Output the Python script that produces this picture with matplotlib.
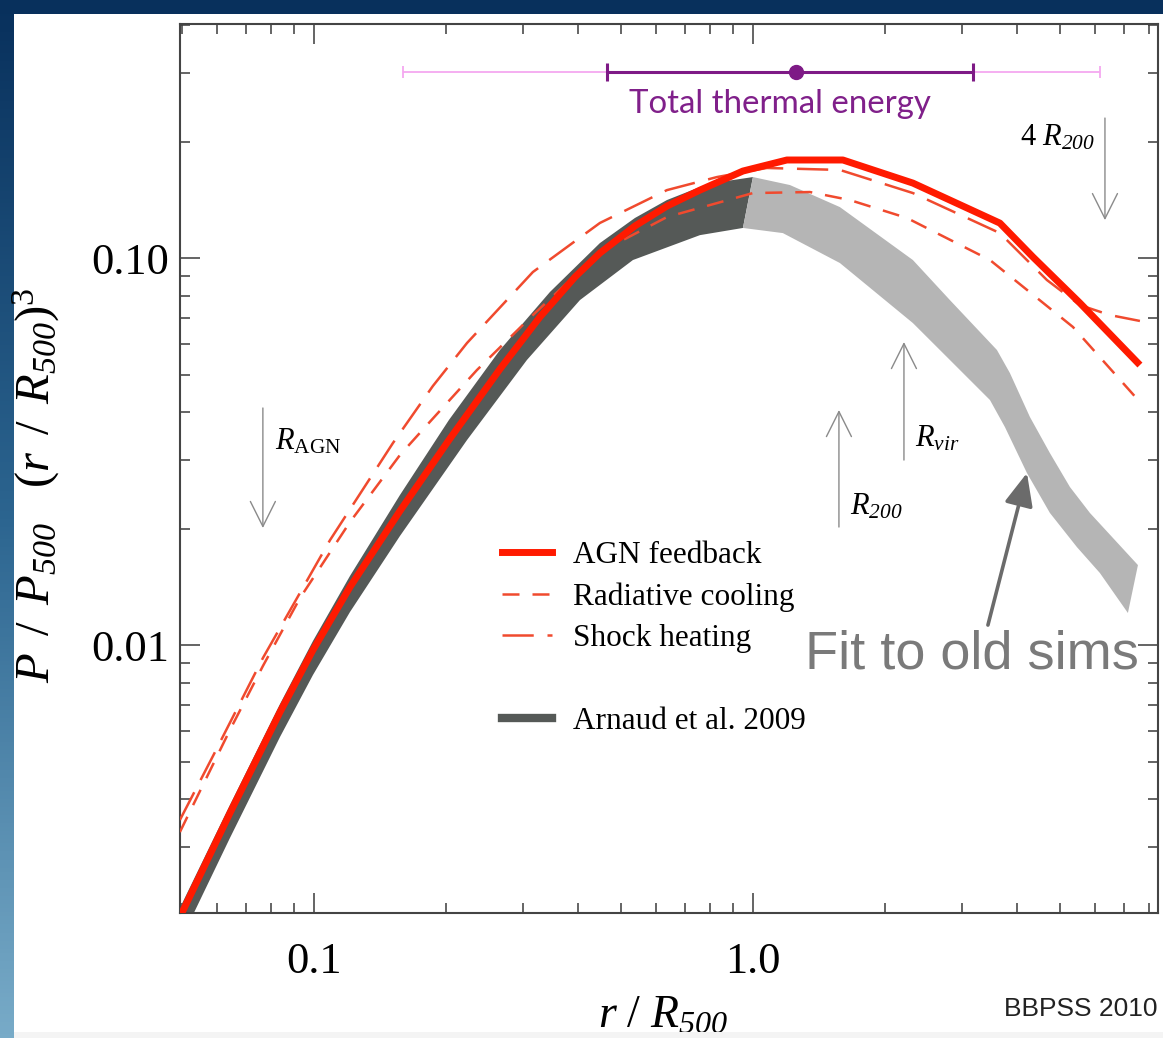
import numpy as np
import matplotlib
matplotlib.use('Agg')
import matplotlib.pyplot as plt
from matplotlib.lines import Line2D
from matplotlib.patches import Rectangle
from matplotlib.colors import LinearSegmentedColormap
from matplotlib.ticker import FixedLocator, FixedFormatter, NullFormatter, LogLocator

plt.rcParams['font.family'] = ['Liberation Serif', 'DejaVu Serif']
plt.rcParams['mathtext.fontset'] = 'custom'
plt.rcParams['mathtext.rm'] = 'Liberation Serif'
plt.rcParams['mathtext.it'] = 'Liberation Serif:italic'
plt.rcParams['mathtext.bf'] = 'Liberation Serif:bold'
plt.rcParams['mathtext.sf'] = 'Liberation Serif:italic'   # used for italic digits

# ---------------- data ----------------
agn_x = [0.0495, 0.06436, 0.08369, 0.09947, 0.1208, 0.1570, 0.2030, 0.2653, 0.3271,
         0.3931, 0.4481, 0.5385, 0.6369, 0.7574, 0.9489, 1.195, 1.603, 2.314,
         3.652, 4.344, 5.558, 7.613]
agn_y = [0.001982, 0.003680, 0.006712, 0.009707, 0.01412, 0.02220, 0.03386, 0.05166,
         0.07039, 0.08931, 0.1030, 0.1210, 0.1362, 0.1498, 0.1678, 0.1792, 0.1792,
         0.1562, 0.1231, 0.1006, 0.0765, 0.0529]

rad_x = [0.0495, 0.06436, 0.07651, 0.09292, 0.1208, 0.1570, 0.1809, 0.2351, 0.3153,
         0.4481, 0.6369, 1.0, 1.348, 1.663, 2.243, 3.467, 5.357, 7.613]
rad_y = [0.003286, 0.006033, 0.008826, 0.01322, 0.02079, 0.03097, 0.03702, 0.05135,
         0.07122, 0.1036, 0.1276, 0.1472, 0.1481, 0.1412, 0.1269, 0.09882, 0.06635,
         0.04245]

shock_x = [0.0495, 0.05888, 0.07651, 0.1088, 0.1513, 0.1866, 0.2232, 0.3153, 0.4481,
           0.6369, 0.8279, 1.076, 1.578, 2.314, 3.652, 4.674, 5.558, 6.506, 7.613]
shock_y = [0.003530, 0.005165, 0.009256, 0.01867, 0.03325, 0.04670, 0.06032, 0.09201,
           0.1232, 0.1498, 0.1619, 0.1709, 0.1689, 0.1472, 0.1160, 0.08773, 0.07557,
           0.07122, 0.06877]

# Arnaud et al. 2009 band over its fitted range (dark): upper edge, then lower edge
arn_up_x = [0.0495, 0.06436, 0.08369, 0.09947, 0.1208, 0.1570, 0.2030, 0.2653, 0.3448,
            0.4481, 0.5385, 0.6369, 0.7574, 0.8411, 1.0]
arn_up_y = [0.002091, 0.003860, 0.007039, 0.01024, 0.01508, 0.02441, 0.03815, 0.05786,
            0.08169, 0.1093, 0.1269, 0.1412, 0.1526, 0.1572, 0.1619]
arn_lo_x = [0.9489, 0.7574, 0.5329, 0.4036, 0.3056, 0.2232, 0.1570, 0.1208, 0.09947,
            0.08369, 0.06436, 0.0495]
arn_lo_y = [0.1196, 0.1146, 0.09882, 0.07787, 0.05452, 0.03386, 0.01913, 0.01217,
            0.008365, 0.005786, 0.003172, 0.001708]

# Fit to old sims (light extrapolated band)
old_up_x = [1.0, 1.214, 1.578, 2.314, 2.810, 3.596, 3.849, 4.276, 4.748, 5.274,
            5.857, 7.534]
old_up_y = [0.1619, 0.1544, 0.1354, 0.09882, 0.07787, 0.05786, 0.05045, 0.03882,
            0.03133, 0.02560, 0.02194, 0.01609]
old_lo_x = [7.148, 6.171, 5.470, 4.748, 4.209, 3.750, 3.467, 2.810, 2.314,
            1.578, 1.170, 0.9489]
old_lo_y = [0.01210, 0.01535, 0.01791, 0.02194, 0.02783, 0.03658, 0.04296,
            0.05452, 0.06792, 0.09707, 0.1160, 0.1196]

# Total thermal energy marker
te_x, te_y = 1.253, 0.3024
te_inner = (0.4650, 3.171)
te_outer = (0.1595, 6.171)

# radius markers: (x, tail y, tip y)
r_agn = (0.0765, 0.04097, 0.02006)
r_200 = (1.570, 0.02018, 0.04048)
r_vir = (2.208, 0.03006, 0.06067)
r4_200 = (6.337, 0.2300, 0.1253)

xticks = [0.1, 1.0]
xticklabels = ['0.1', '1.0']
yticks = [0.01, 0.1]
yticklabels = ['0.01', '0.10']

# ---------------- figure ----------------
W, H = 1163, 1038
fig = plt.figure(figsize=(W / 100, H / 100), dpi=100)
fig.patch.set_facecolor('white')

bg = fig.add_axes([0, 0, 1, 1], zorder=-5)
cmap = LinearSegmentedColormap.from_list('slide', ['#08305c', '#2c6590', '#78abc8'])
bg.imshow(np.linspace(0, 1, 256).reshape(-1, 1), cmap=cmap,
          extent=[0, 14, H, 0], aspect='auto')
bg.add_patch(Rectangle((0, 0), W, 14, color='#08305c', lw=0))
bg.set_xlim(0, W)
bg.set_ylim(H, 0)
bg.axis('off')

ax = fig.add_axes([180 / W, (H - 913) / H, (1158 - 180) / W, (913 - 24) / H])
ax.set_xscale('log')
ax.set_yscale('log')
ax.set_xlim(0.04953, 8.37)
ax.set_ylim(0.00203, 0.4025)

red = '#ff1a00'
dred = '#f04a2e'

ax.fill(arn_up_x + arn_lo_x, arn_up_y + arn_lo_y, color='#555957', lw=0, zorder=2)
ax.fill(old_up_x + old_lo_x, old_up_y + old_lo_y, color='#b5b5b5', lw=0, zorder=2)

ax.plot(shock_x, shock_y, color=dred, lw=1.8, dashes=(12.5, 5.5), zorder=3)
ax.plot(rad_x, rad_y, color=dred, lw=1.8, dashes=(6.8, 5.2), zorder=3)
ax.plot(agn_x, agn_y, color=red, lw=5, zorder=4, solid_capstyle='butt',
        solid_joinstyle='round')

# total thermal energy bar
ax.errorbar([te_x], [te_y], xerr=[[te_x - te_outer[0]], [te_outer[1] - te_x]],
            fmt='none', ecolor='#f4a8f0', elinewidth=1.3, capsize=4.5, capthick=1.3,
            zorder=5)
ax.errorbar([te_x], [te_y], xerr=[[te_x - te_inner[0]], [te_inner[1] - te_x]],
            fmt='o', color='#7e1a86', ms=10, elinewidth=2.2, capsize=6.5,
            capthick=2.2, zorder=6)
ax.text(te_x * 0.92, 0.25, 'Total thermal energy', color='#80208a',
        fontsize=23.8, family='Lato', ha='center', va='center')

# radius arrows
for (xx, y0, y1) in (r_agn, r_200, r_vir, r4_200):
    ax.annotate('', xy=(xx, y1), xytext=(xx, y0),
                arrowprops=dict(arrowstyle='->,head_length=0.9,head_width=0.45',
                                color='#8a8a8a', lw=1.0, shrinkA=0, shrinkB=0,
                                mutation_scale=20))
ax.text(0.0815, 0.0321, r'$R_{\mathrm{AGN}}$', fontsize=22, ha='left', va='baseline')
ax.text(1.663, 0.02168, r'$R_{\mathsf{200}}$', fontsize=22, ha='left', va='baseline')
ax.text(2.339, 0.0325, r'$R_{vir}$', fontsize=22, ha='left', va='baseline')
ax.text(4.056, 0.1959, r'$4\ R_{\mathsf{200}}$', fontsize=22, ha='left', va='baseline')

# fit to old sims label and arrow
ax.annotate('', xy=(4.209, 0.02783), xytext=(3.430, 0.01126),
            arrowprops=dict(arrowstyle='-|>,head_length=0.8,head_width=0.35',
                            color='#6b6b6b', lw=2.6, shrinkA=0, shrinkB=0,
                            mutation_scale=25))
ax.text(1.314, 0.00872, 'Fit to old sims', fontsize=39, family='Liberation Sans',
        color='#7a7a7a', ha='left', va='baseline', zorder=6)

# legend
h_agn = Line2D([], [], color=red, lw=5)
h_rad = Line2D([], [], color=dred, lw=1.8, dashes=(6.8, 5.2))
h_shock = Line2D([], [], color=dred, lw=1.8, dashes=(12.5, 5.5))
h_blank = Line2D([], [], color='none')
h_arn = Line2D([], [], color='#555957', lw=6)
ax.legend([h_agn, h_rad, h_shock, h_blank, h_arn],
          ['AGN feedback', 'Radiative cooling', 'Shock heating', '', 'Arnaud et al. 2009'],
          loc='upper left', bbox_to_anchor=(0.329, 0.418), frameon=False,
          fontsize=22.5, handlelength=1.62, handletextpad=0.66, labelspacing=0.39,
          borderpad=0, borderaxespad=0)

# ticks
ax.xaxis.set_major_locator(FixedLocator(xticks))
ax.xaxis.set_major_formatter(FixedFormatter(xticklabels))
ax.xaxis.set_minor_locator(LogLocator(base=10, subs=np.arange(2, 10) * 1.0, numticks=30))
ax.xaxis.set_minor_formatter(NullFormatter())
ax.yaxis.set_major_locator(FixedLocator(yticks))
ax.yaxis.set_major_formatter(FixedFormatter(yticklabels))
ax.yaxis.set_minor_locator(LogLocator(base=10, subs=np.arange(2, 10) * 1.0, numticks=30))
ax.yaxis.set_minor_formatter(NullFormatter())
ax.tick_params(which='both', direction='in', top=True, right=True, color='#3a3a3a',
               labelsize=32)
ax.tick_params(which='major', length=14.4, width=1.1)
ax.tick_params(which='minor', length=7.2, width=1.1)
ax.tick_params(axis='x', pad=21)
ax.tick_params(axis='y', pad=8)
for s in ax.spines.values():
    s.set_color('#444444')
    s.set_linewidth(1.5)

# axis labels
fig.text(36 / W, 1 - 485 / H,
         r'$P\ \,/\ \,P_{\mathsf{500}}\ \ \ (r\ \,/\ \,R_{\mathsf{500}})^{3}$',
         rotation=90, fontsize=35, ha='center', va='center')
fig.text(598 / W, 10 / H, r'$r\ /\ R_{\mathsf{500}}$', fontsize=33, ha='left',
         va='baseline')
fig.text(1157 / W, 22 / H, 'BBPSS 2010', fontsize=19, family='Liberation Sans',
         color='#222222', ha='right', va='baseline')

fig.add_artist(Rectangle((14 / W, 0), 1, 6 / H, transform=fig.transFigure,
                         color='#f4f4f4', lw=0, zorder=20))

fig.savefig('out.png', dpi=100)
